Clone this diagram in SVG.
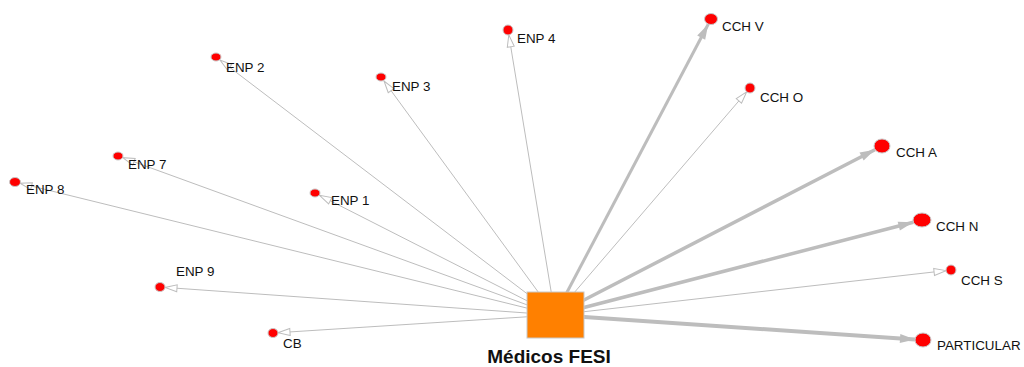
<svg xmlns="http://www.w3.org/2000/svg" width="1024" height="367" viewBox="0 0 1024 367">
<style>
.e{stroke:#bdbdbd;fill:none;stroke-linecap:butt}
.thin{stroke-width:1;marker-end:url(#ah)}
.thick{marker-end:url(#af)}
.n{fill:#ff0000;stroke:#c8c8c8;stroke-width:1}
.l{font-family:"Liberation Sans",Arial,Helvetica,sans-serif;font-size:13.4px;fill:#111}
.t{font-family:"Liberation Sans",Arial,Helvetica,sans-serif;font-size:19px;font-weight:bold;fill:#111;text-anchor:middle}
</style>
<defs>
<marker id="ah" markerUnits="userSpaceOnUse" markerWidth="14" markerHeight="9" refX="12.5" refY="4" orient="auto" overflow="visible">
<path d="M0.5,0.5 L12.5,4 L0.5,7.5 Z" fill="#fff" stroke="#bdbdbd" stroke-width="1"/>
</marker>
<marker id="af" markerUnits="userSpaceOnUse" markerWidth="16" markerHeight="10" refX="15" refY="5" orient="auto" overflow="visible">
<path d="M0,0.5 L15,5 L0,9.5 Z" fill="#bdbdbd"/>
</marker>
</defs>
<g id="connectors">
<line class="e thin" x1="555" y1="315" x2="508.8" y2="34.9"/>
<line class="e thick" stroke-width="3" x1="555" y1="315" x2="708.2" y2="24.3"/>
<line class="e thin" x1="555" y1="315" x2="746.7" y2="91.8"/>
<line class="e thick" stroke-width="3.5" x1="555" y1="315" x2="874.9" y2="149.7"/>
<line class="e thick" stroke-width="3.5" x1="555" y1="315" x2="913.3" y2="222.3"/>
<line class="e thin" x1="555" y1="315" x2="946" y2="270.6"/>
<line class="e thick" stroke-width="4" x1="555" y1="315" x2="915" y2="339.5"/>
<line class="e thin" x1="555" y1="315" x2="278" y2="332.7"/>
<line class="e thin" x1="555" y1="315" x2="165" y2="287.4"/>
<line class="e thin" x1="555" y1="315" x2="19.9" y2="183.2"/>
<line class="e thin" x1="555" y1="315" x2="122.7" y2="157.7"/>
<line class="e thin" x1="555" y1="315" x2="319.5" y2="195.3"/>
<line class="e thin" x1="555" y1="315" x2="220" y2="60"/>
<line class="e thin" x1="555" y1="315" x2="384" y2="81"/>
</g>
<g id="medicos-fesi">
<rect x="527" y="292" width="57" height="46" fill="#ff8000" stroke="#c8c8c8" stroke-width="1"/>
<text class="t" x="549" y="363">Médicos FESI</text>
</g>
<g id="enp4"><ellipse class="n" cx="508" cy="30" rx="5" ry="5"/><text class="l" x="517" y="43">ENP 4</text></g>
<g id="cchv"><ellipse class="n" cx="711" cy="19" rx="6.5" ry="5.5"/><text class="l" x="722" y="31">CCH V</text></g>
<g id="ccho"><ellipse class="n" cx="750" cy="88" rx="5" ry="5"/><text class="l" x="760" y="102">CCH O</text></g>
<g id="ccha"><ellipse class="n" cx="882" cy="146" rx="8" ry="7"/><text class="l" x="896" y="157">CCH A</text></g>
<g id="cchn"><ellipse class="n" cx="922" cy="220" rx="9" ry="7"/><text class="l" x="936" y="231">CCH N</text></g>
<g id="cchs"><ellipse class="n" cx="951" cy="270" rx="5" ry="5"/><text class="l" x="961" y="285">CCH S</text></g>
<g id="particular"><ellipse class="n" cx="923" cy="340" rx="8" ry="7"/><text class="l" x="937" y="350">PARTICULAR</text></g>
<g id="cb"><ellipse class="n" cx="273" cy="333" rx="5" ry="4.5"/><text class="l" x="283" y="348">CB</text></g>
<g id="enp9"><ellipse class="n" cx="160" cy="287" rx="5" ry="4.5"/><text class="l" x="176" y="276">ENP 9</text></g>
<g id="enp8"><ellipse class="n" cx="15" cy="182" rx="5.5" ry="4.5"/><text class="l" x="26" y="194">ENP 8</text></g>
<g id="enp7"><ellipse class="n" cx="118" cy="156" rx="5" ry="4"/><text class="l" x="128" y="169">ENP 7</text></g>
<g id="enp1"><ellipse class="n" cx="315" cy="193" rx="5" ry="4"/><text class="l" x="331" y="205">ENP 1</text></g>
<g id="enp2"><ellipse class="n" cx="216" cy="57" rx="5" ry="4"/><text class="l" x="226" y="72">ENP 2</text></g>
<g id="enp3"><ellipse class="n" cx="381" cy="77" rx="5" ry="4"/><text class="l" x="392" y="91">ENP 3</text></g>
</svg>
